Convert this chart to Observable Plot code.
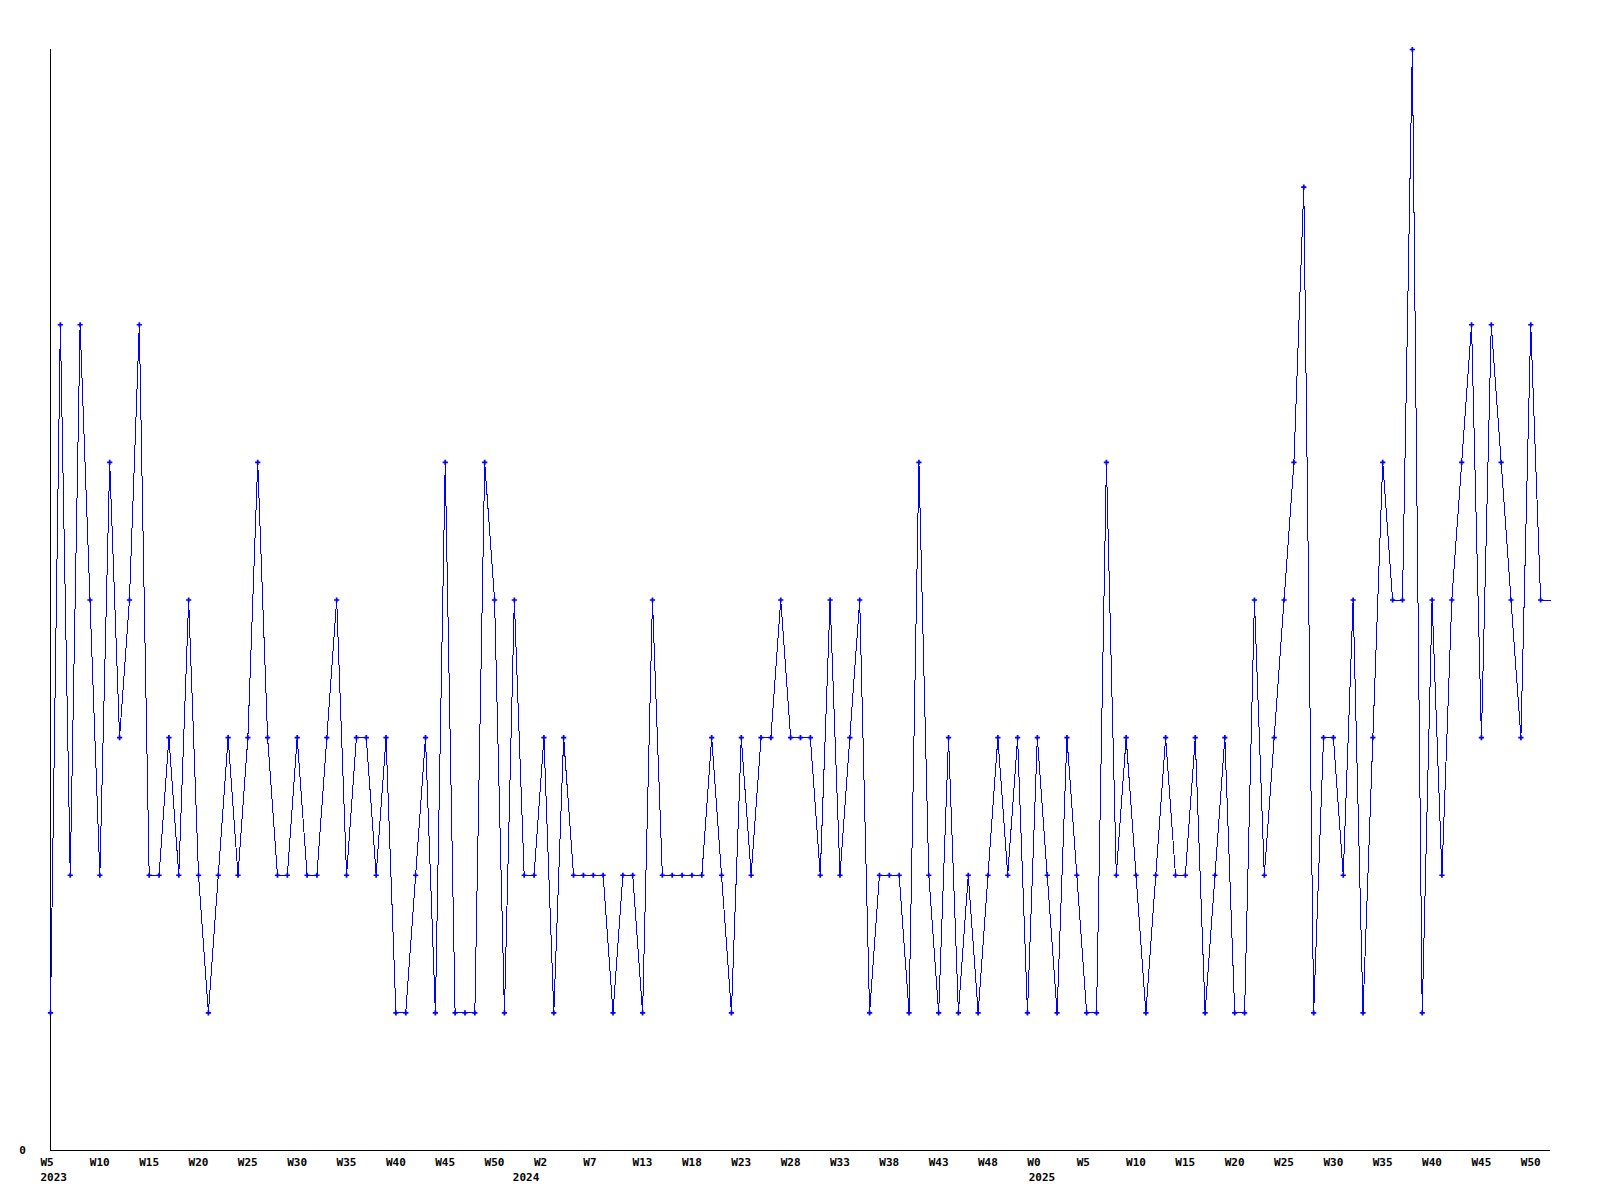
<!DOCTYPE html>
<html>
<head>
<meta charset="utf-8">
<script src="https://cdn.jsdelivr.net/npm/d3@7"></script>
<script src="https://cdn.jsdelivr.net/npm/@observablehq/plot@0.6"></script>
<style>
  html, body { margin: 0; padding: 0; background: #ffffff; }
  #chart svg { display: block; }
</style>
</head>
<body>
<div id="chart"></div>
<script>
// ---- data ----
const startDate = "2023-01-31";           // first weekly observation
const values = [
  1,6,2,6,4,2,5,3,4,6,
  2,2,3,2,4,2,1,2,3,2,
  3,5,3,2,2,3,2,2,3,4,
  2,3,3,2,3,1,1,2,3,1,
  5,1,1,1,5,4,1,4,2,2,
  3,1,3,2,2,2,2,1,2,2,
  1,4,2,2,2,2,2,3,2,1,
  3,2,3,3,4,3,3,3,2,4,
  2,3,4,1,2,2,2,1,5,2,
  1,3,1,2,1,2,3,2,3,1,
  3,2,1,3,2,1,1,5,2,3,
  2,1,2,3,2,2,3,1,2,3,
  1,1,4,2,3,4,5,7,1,3,
  3,2,4,1,3,5,4,4,8,1,
  4,2,4,5,6,3,6,5,4,3,
  6,4,4
];
const tickWeeks = [
  "W5","W10","W15","W20","W25","W30","W35","W40","W45","W50",
  "W2","W7","W13","W18","W23","W28","W33","W38","W43","W48",
  "W0","W5","W10","W15","W20","W25","W30","W35","W40","W45","W50"
];
const years = ["2023", "2024", "2025"];
const yMax = 8;
const yZeroLabel = "0";

// ---- derived tables ----
const start = new Date(startDate + "T00:00:00Z");
const data = values.map((v, i) => ({ date: d3.utcDay.offset(start, 7 * i), value: v }));
const ticks = data.filter((d, i) => i % 5 === 0)
  .slice(0, tickWeeks.length)
  .map((d, k) => ({ date: d.date, label: tickWeeks[k] }));
const yearLabels = years.map(y => {
  const jan1 = new Date(Date.UTC(+y, 0, 1));
  return { date: jan1 < start ? start : jan1, label: y };
});

const font = { fontFamily: "DejaVu Sans Mono", fontSize: 11, fontWeight: "bold", fill: "#000000" };

const chart = Plot.plot({
  width: 1600,
  height: 1200,
  marginLeft: 50,
  marginRight: 50,
  marginTop: 49,
  marginBottom: 50,
  x: { type: "utc", domain: [data[0].date, data[data.length - 1].date], axis: null },
  y: { domain: [0, yMax], axis: null },
  style: { background: "#ffffff", fontFamily: "DejaVu Sans Mono", fontSize: "11px", fontWeight: "bold" },
  marks: [
    Plot.ruleX([data[0].date], { stroke: "#000000", strokeWidth: 1 }),
    Plot.ruleY([0], { stroke: "#000000", strokeWidth: 1 }),
    Plot.line(data, { x: "date", y: "value", stroke: "#0000ff", strokeWidth: 1, shapeRendering: "crispEdges" }),
    Plot.dot(data.slice(0, -1), { x: "date", y: "value", symbol: "cross", fill: "#0000ff", r: 2.2 }),
    Plot.text(ticks, { x: "date", y: () => 0, text: "label", dx: -10, dy: 12, textAnchor: "start", ...font }),
    Plot.text(yearLabels, { x: "date", y: () => 0, text: "label", dx: -10, dy: 27, textAnchor: "start", ...font }),
    Plot.text([yZeroLabel], { x: () => data[0].date, y: () => 0, text: d => d, dx: -28, textAnchor: "middle", ...font })
  ]
});
document.getElementById("chart").appendChild(chart);
</script>
</body>
</html>
